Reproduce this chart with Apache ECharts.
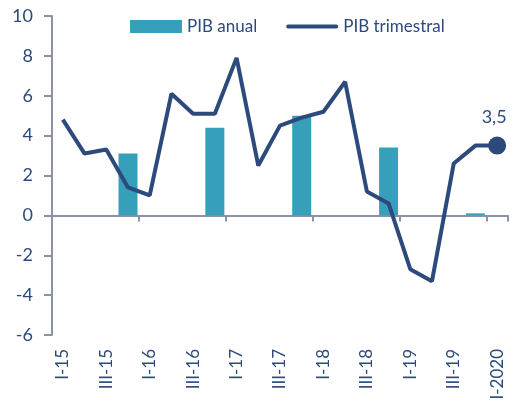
<!DOCTYPE html>
<html>
<head>
<meta charset="utf-8">
<script src="https://cdn.jsdelivr.net/npm/echarts@6/dist/echarts.min.js"></script>
<style>
html,body{margin:0;padding:0;background:#fff;}
#chart{width:526px;height:405px;}
</style>
</head>
<body>
<div id="chart"></div>
<script>
const categories = ['I-15','II-15','III-15','IV-15','I-16','II-16','III-16','IV-16','I-17','II-17','III-17','IV-17','I-18','II-18','III-18','IV-18','I-19','II-19','III-19','IV-19','I-2020'];
const pibAnual = [null,null,null,3.1,null,null,null,4.4,null,null,null,5.0,null,null,null,3.4,null,null,null,0.1,null];
const pibTrimestral = [4.8,3.1,3.3,1.4,1.0,6.1,5.1,5.1,7.9,2.5,4.5,4.9,5.2,6.7,1.2,0.6,-2.7,-3.3,2.6,3.5,3.5];
const yTicks = {min:-6, max:10, interval:2};

const navy = '#2c4a7c';
const teal = '#36a0bb';
const axisGray = '#8a94a8';
const font = 'Lato, "Open Sans", sans-serif';
const lastIdx = pibTrimestral.length - 1;

const chart = echarts.init(document.getElementById('chart'));
chart.setOption({
  animation: false,
  backgroundColor: '#fff',
  textStyle: {fontFamily: font},
  legend: {
    left: 125, top: 13, itemGap: 29, itemWidth: 52, itemHeight: 13,
    textStyle: {color: navy, fontSize: 17, fontFamily: font},
    data: [
      {name: 'PIB anual', icon: 'rect'},
      {name: 'PIB trimestral', icon: 'path://M2,0 H52 A2,2 0 0 1 52,4 H2 A2,2 0 0 1 2,0 Z'}
    ]
  },
  grid: {left: 52, top: 16, right: 18, bottom: 70, containLabel: false},
  xAxis: [
    {type: 'category', data: categories, boundaryGap: true,
      axisLine: {onZero: true, lineStyle: {color: axisGray, width: 2}},
      axisTick: {show: true, length: 6, interval: (i) => i % 4 === 0 && i > 0, lineStyle: {color: axisGray, width: 2}},
      axisLabel: {show: false}, splitLine: {show: false}},
    {type: 'category', data: categories, boundaryGap: true, position: 'bottom',
      axisLine: {show: false, onZero: false}, axisTick: {show: false},
      axisLabel: {show: true, interval: 1, rotate: 90, margin: 14, color: navy, fontSize: 17, fontFamily: font},
      splitLine: {show: false}}
  ],
  yAxis: {
    type: 'value', min: yTicks.min, max: yTicks.max, interval: yTicks.interval,
    axisLine: {show: true, lineStyle: {color: axisGray, width: 2}},
    axisTick: {show: true, length: 8, lineStyle: {color: axisGray, width: 2}},
    axisLabel: {color: navy, fontSize: 18, margin: 19, fontFamily: font},
    splitLine: {show: false}
  },
  series: [
    {name: 'PIB anual', type: 'bar', data: pibAnual, barWidth: 19, itemStyle: {color: teal}, xAxisIndex: 0},
    {name: 'PIB trimestral', type: 'line', data: pibTrimestral, xAxisIndex: 0,
      symbol: 'circle', showSymbol: true, showAllSymbol: true,
      symbolSize: (v, p) => p.dataIndex === lastIdx ? 18 : 0,
      label: {show: true, position: 'top', distance: 10, offset: [-3, 0],
        formatter: p => p.dataIndex === lastIdx ? String(p.value).replace('.', ',') : '',
        color: navy, fontSize: 18, fontFamily: font},
      lineStyle: {color: navy, width: 4}, itemStyle: {color: navy}, z: 3}
  ]
});
</script>
</body>
</html>
